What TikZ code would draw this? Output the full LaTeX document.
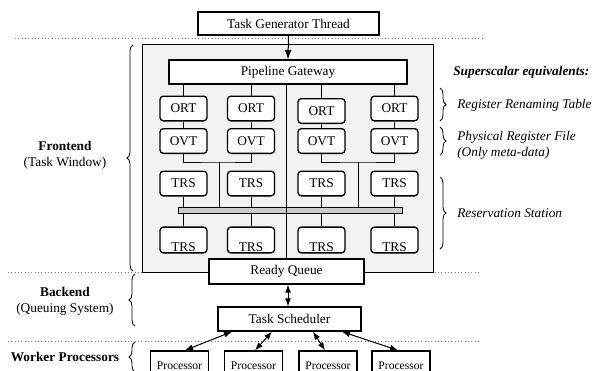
\documentclass[tikz,border=0pt]{standalone}
\usepackage{fontspec}
\setmainfont{Liberation Serif}
\usetikzlibrary{calc}
\usetikzlibrary{arrows.meta}
\usetikzlibrary{decorations.pathreplacing}

\begin{document}
\begin{tikzpicture}[x=0.75pt, y=-0.75pt,
    box/.style={draw, line width=1pt, fill=white, inner sep=0pt, font=\fontsize{10}{12}\selectfont},
    cell/.style={box, rounded corners=2.5pt, minimum width=35.25pt, minimum height=18.5pt},
    lowcell/.style={cell, text height=18.3pt, text depth=1pt},
    proc/.style={box, minimum width=43.5pt, minimum height=22.5pt, font=\fontsize{8.7}{10}\selectfont},
    wire/.style={line width=0.75pt},
    dbl/.style={wire, {Latex[length=6pt,width=4.5pt]}-{Latex[length=6pt,width=4.5pt]}},
    sep/.style={gray, dotted, line width=0.5pt},
    brc/.style={decorate, decoration={brace, amplitude=4.5pt}, line width=0.6pt},
    lbl/.style={align=center, inner sep=0pt, font=\fontsize{10}{12}\selectfont},
    eq/.style={anchor=west, align=left, inner sep=0pt, font=\fontsize{10}{12}\selectfont\itshape}]
    \useasboundingbox (0,0) rectangle (596,371);

    % Section separators
    \draw[sep] (15,38) -- (485,38);
    \draw[sep] (8,272) -- (480,272);
    \draw[sep] (8,341) -- (480,341);

    % Task window (frontend)
    \draw[line width=0.7pt, fill=gray!10] (142,44) rectangle (433,272);

    \node[box, minimum width=135.75pt, minimum height=17.25pt] (tgt) at (288.5,23.5) {Task Generator Thread};
    \node[box, minimum width=178.5pt, minimum height=18pt] (pg) at (288,72) {Pipeline Gateway};
    \node[box, fill=gray!40, minimum width=168pt, minimum height=4.5pt, line width=0.75pt] (bus) at (290,210) {};

    \foreach \x/\y [count=\i] in {183.5/108.5, 251/108.5, 321.5/111, 394.5/108.5} {
        \node[cell] (ort\i) at (\x,\y) {ORT};
        \node[cell] (ovt\i) at (\x,141) {OVT};
        \node[cell] (trs\i) at (\x,183.5) {TRS};
        \node[lowcell] (trsb\i) at (\x,240) {TRS};
    }

    % Backend
    \node[box, minimum width=116.25pt, minimum height=18.75pt] (rq) at (286.5,271.5) {Ready Queue};
    \node[box, minimum width=107.25pt, minimum height=18pt] (ts) at (289.5,319) {Task Scheduler};

    % Worker processors
    \foreach \x [count=\i] in {179.5,253.5,328,401}
        \node[proc] (p\i) at (\x,366) {Processor};

    % Wiring inside the window
    \coordinate (trunk) at (286,0);
    \coordinate (joinl) at (219,162);
    \coordinate (joinr) at (358,162);
    \draw[wire] (pg.south -| trunk) -- (rq.north -| trunk);
    \foreach \i in {1,...,4} {
        \draw[wire] (pg.south -| ort\i.north) -- (ort\i.north);
        \draw[wire] (ort\i.south) -- (ovt\i.north);
        \draw[wire] (trs\i.south) -- (bus.north -| trs\i.south);
        \draw[wire] (bus.south -| trsb\i.north) -- (trsb\i.north);
    }
    \draw[wire] (ovt1.south) |- (joinl) -| (ovt2.south);
    \draw[wire] (ovt3.south) |- (joinr) -| (ovt4.south);
    \draw[wire] (joinl) -- (bus.north -| joinl);
    \draw[wire] (joinr) -- (bus.north -| joinr);

    % Arrows
    \draw[wire, -{Latex[length=7pt,width=5pt]}] (tgt.south) -- (pg.north);
    \draw[dbl] (rq.south -| 288,0) -- (ts.north -| 288,0);
    \draw[dbl] ($(ts.south)+(-57.5,0)$) -- ($(p1.north)+(5.5,0)$);
    \draw[dbl] ($(ts.south)+(-17.5,0)$) -- ($(p2.north)+(1.5,0)$);
    \draw[dbl] ($(ts.south)+(23.5,0)$) -- ($(p3.north)+(-3,0)$);
    \draw[dbl] ($(ts.south)+(52.5,0)$) -- ($(p4.north)+(-3,0)$);

    % Left labels and braces
    \node[lbl] (fe) at (65,155.5) {\textbf{Frontend}\\(Task Window)};
    \node[lbl] (be) at (65,301.5) {\textbf{Backend}\\(Queuing System)};
    \node[lbl] (wp) at (65,357) {\textbf{Worker Processors}};
    \draw[brc] (133,271) -- (133,45);
    \draw[brc] (135,326) -- (135,274);
    \draw[brc] (135,372) -- (135,342);

    % Superscalar equivalents
    \node[eq, font=\fontsize{10}{12}\selectfont\bfseries\itshape] (sup) at (453,72) {Superscalar equivalents:};
    \node[eq] (rrt) at (457,105) {Register Renaming Table};
    \node[eq] (prf) at (457,145) {Physical Register File\\(Only meta-data)};
    \node[eq] (rs) at (457,213) {Reservation Station};
    \draw[brc] (440,88) -- (440,121);
    \draw[brc] (440,127) -- (440,155);
    \draw[brc] (440,177) -- (440,249);
\end{tikzpicture}
\end{document}
